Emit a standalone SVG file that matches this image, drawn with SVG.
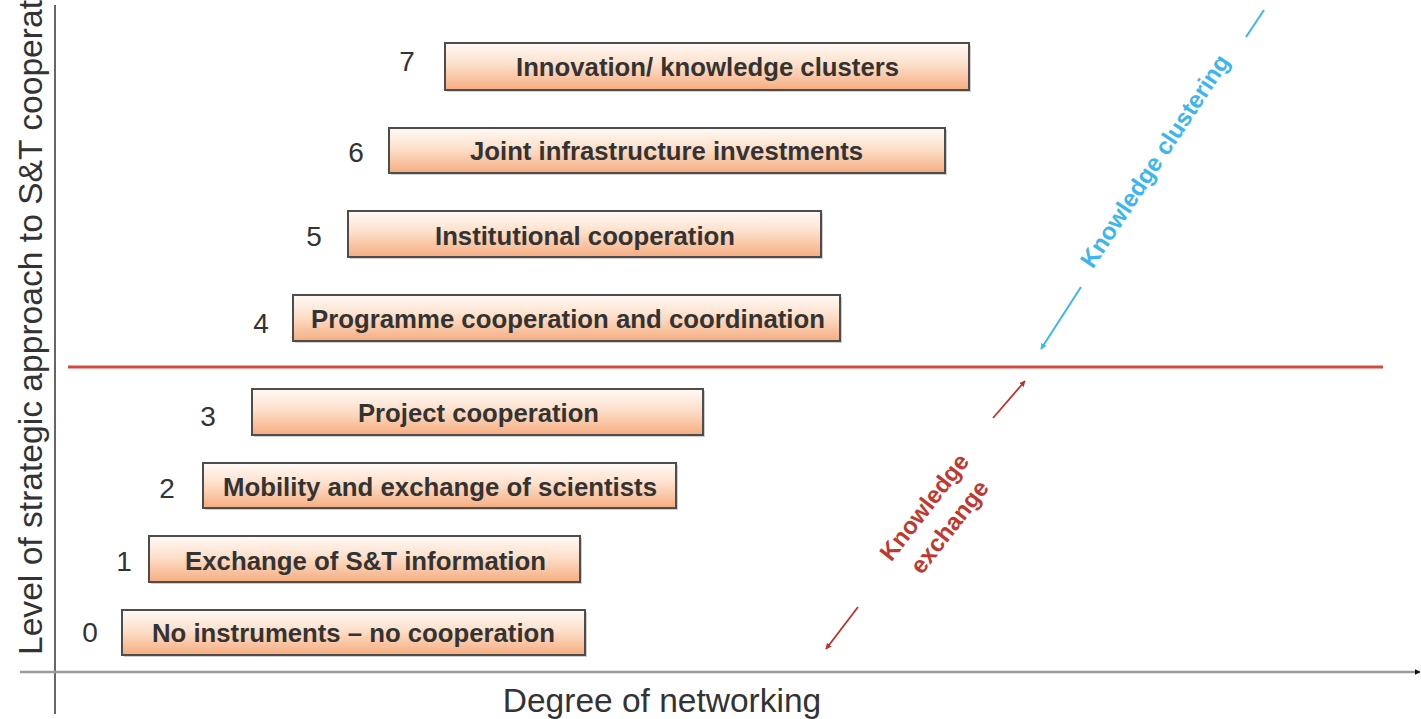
<svg xmlns="http://www.w3.org/2000/svg" width="1421" height="719" viewBox="0 0 1421 719">
<defs>
<linearGradient id="boxg" x1="0" y1="0" x2="0" y2="1">
<stop offset="0" stop-color="#fffaf6"/>
<stop offset="0.45" stop-color="#fde0cb"/>
<stop offset="1" stop-color="#f6ad80"/>
</linearGradient>
<marker id="ablue" viewBox="0 0 10 10" refX="9" refY="5" markerWidth="6" markerHeight="6" orient="auto" markerUnits="userSpaceOnUse">
<path d="M0,0 L10,5 L0,10 z" fill="#3cb6ec"/>
</marker>
<marker id="ared" viewBox="0 0 10 10" refX="9" refY="5" markerWidth="6" markerHeight="6" orient="auto" markerUnits="userSpaceOnUse">
<path d="M0,0 L10,5 L0,10 z" fill="#b8332c"/>
</marker>
<marker id="ablack" viewBox="0 0 10 10" refX="9" refY="5" markerWidth="6" markerHeight="6" orient="auto" markerUnits="userSpaceOnUse">
<path d="M0,0 L10,5 L0,10 z" fill="#111"/>
</marker>
<style>
.box{fill:url(#boxg);stroke:#4d4d4d;stroke-width:2}
.shadow{fill:#cfcfcf}
.bt{font-family:"Liberation Sans",Arial,sans-serif;font-weight:bold;font-size:25px;fill:#333;text-anchor:middle}
.num{font-family:"Liberation Sans",Arial,sans-serif;font-size:28px;fill:#333;text-anchor:middle}
.axl{font-family:"Liberation Sans",Arial,sans-serif;font-size:33.5px;fill:#333}
.blue{font-family:"Liberation Sans",Arial,sans-serif;font-weight:bold;font-size:24px;fill:#3cb6ec;text-anchor:middle}
.red{font-family:"Liberation Sans",Arial,sans-serif;font-weight:bold;font-size:24px;fill:#c0392f;text-anchor:middle}
</style>
</defs>
<rect width="1421" height="719" fill="#fff"/>

<g id="axes">
<line x1="55" y1="5" x2="55" y2="714" stroke="#666" stroke-width="2"/>
<line x1="20" y1="672" x2="1420" y2="672" stroke="#9a9a9a" stroke-width="2.5" marker-end="url(#ablack)"/>
<text class="axl" transform="translate(42,655) rotate(-90)" textLength="655" lengthAdjust="spacingAndGlyphs">Level of strategic approach to S&amp;T cooperat</text>
<text class="axl" x="662" y="712" text-anchor="middle">Degree of networking</text>
</g>

<g id="threshold">
<line x1="68" y1="367" x2="1383" y2="367" stroke="#d64a3c" stroke-width="3"/>
</g>

<g id="n7">
<rect class="shadow" x="447" y="45" width="524" height="47"/>
<rect class="box" x="445" y="43" width="524" height="47"/>
<text class="num" x="407" y="71">7</text>
<text class="bt" x="707.5" y="76" textLength="383" lengthAdjust="spacingAndGlyphs">Innovation/ knowledge clusters</text>
</g>
<g id="n6">
<rect class="shadow" x="391" y="130" width="556" height="45"/>
<rect class="box" x="389" y="128" width="556" height="45"/>
<text class="num" x="356" y="162">6</text>
<text class="bt" x="666.5" y="160" textLength="393" lengthAdjust="spacingAndGlyphs">Joint infrastructure investments</text>
</g>
<g id="n5">
<rect class="shadow" x="350" y="213" width="473" height="46"/>
<rect class="box" x="348" y="211" width="473" height="46"/>
<text class="num" x="314" y="246">5</text>
<text class="bt" x="585" y="245" textLength="300" lengthAdjust="spacingAndGlyphs">Institutional cooperation</text>
</g>
<g id="n4">
<rect class="shadow" x="295" y="297" width="547" height="46"/>
<rect class="box" x="293" y="295" width="547" height="46"/>
<text class="num" x="261" y="333">4</text>
<text class="bt" x="568" y="328" textLength="514" lengthAdjust="spacingAndGlyphs">Programme cooperation and coordination</text>
</g>
<g id="n3">
<rect class="shadow" x="254" y="391" width="451" height="46"/>
<rect class="box" x="252" y="389" width="451" height="46"/>
<text class="num" x="208" y="426">3</text>
<text class="bt" x="478.5" y="422" textLength="241" lengthAdjust="spacingAndGlyphs">Project cooperation</text>
</g>
<g id="n2">
<rect class="shadow" x="205" y="465" width="473" height="45"/>
<rect class="box" x="203" y="463" width="473" height="45"/>
<text class="num" x="167" y="498">2</text>
<text class="bt" x="440" y="496" textLength="434" lengthAdjust="spacingAndGlyphs">Mobility and exchange of scientists</text>
</g>
<g id="n1">
<rect class="shadow" x="151" y="538" width="431" height="46"/>
<rect class="box" x="149" y="536" width="431" height="46"/>
<text class="num" x="124" y="571">1</text>
<text class="bt" x="365.5" y="570" textLength="361" lengthAdjust="spacingAndGlyphs">Exchange of S&amp;T information</text>
</g>
<g id="n0">
<rect class="shadow" x="124" y="612" width="463" height="45"/>
<rect class="box" x="122" y="610" width="463" height="45"/>
<text class="num" x="90" y="642">0</text>
<text class="bt" x="353.5" y="642" textLength="403" lengthAdjust="spacingAndGlyphs">No instruments – no cooperation</text>
</g>

<g id="connectors">
<line x1="1264" y1="10" x2="1246" y2="37" stroke="#3cb6ec" stroke-width="2"/>
<line x1="1081" y1="287" x2="1041" y2="349" stroke="#3cb6ec" stroke-width="2" marker-end="url(#ablue)"/>
<line x1="993" y1="418" x2="1025" y2="381" stroke="#b8332c" stroke-width="1.8" marker-end="url(#ared)"/>
<line x1="858" y1="607" x2="826" y2="649" stroke="#b8332c" stroke-width="1.8" marker-end="url(#ared)"/>
</g>

<g id="labels">
<text class="blue" transform="translate(1155,161) rotate(-56.5)" y="8">Knowledge clustering</text>
<g transform="translate(937,517) rotate(-52)">
<text class="red" x="0" y="-8">Knowledge</text>
<text class="red" x="0" y="24">exchange</text>
</g>
</g>
</svg>
